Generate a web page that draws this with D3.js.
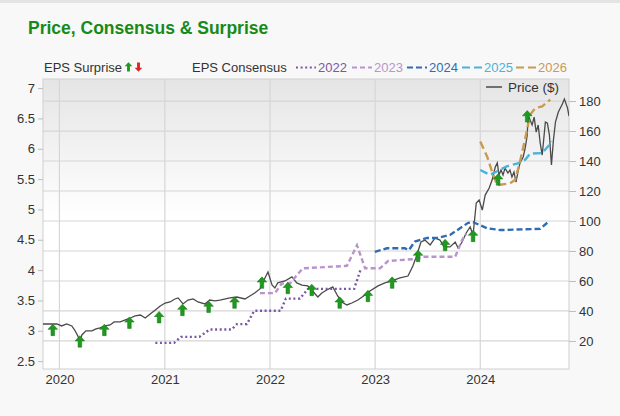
<!DOCTYPE html>
<html>
<head>
<meta charset="utf-8">
<script src="https://cdn.jsdelivr.net/npm/d3@7"></script>
<style>
  body { margin: 0; background: #f8f8f8; }
  svg { display: block; font-family: "Liberation Sans", Arial, sans-serif; }
</style>
</head>
<body>
<div id="container"></div>
<script>
// values
let priceDates = ["2019-11-05","2019-11-29","2019-12-23","2020-01-09","2020-01-26","2020-02-13","2020-02-23","2020-03-05","2020-03-12","2020-03-19","2020-04-02","2020-04-23","2020-05-07","2020-05-21","2020-06-08","2020-06-25","2020-07-09","2020-07-30","2020-08-17","2020-09-03","2020-09-20","2020-10-08","2020-10-25","2020-11-11","2020-11-29","2020-12-16","2021-01-02","2021-01-19","2021-02-05","2021-02-16","2021-03-05","2021-03-22","2021-04-09","2021-04-26","2021-05-20","2021-06-06","2021-06-24","2021-07-11","2021-08-15","2021-09-08","2021-10-06","2021-10-23","2021-11-09","2021-11-27","2021-12-11","2021-12-25","2022-01-08","2022-01-18","2022-01-28","2022-02-22","2022-03-18","2022-04-04","2022-04-22","2022-05-12","2022-05-26","2022-06-16","2022-06-30","2022-07-17","2022-08-07","2022-08-24","2022-09-07","2022-09-25","2022-10-12","2022-11-02","2022-11-27","2022-12-14","2023-01-11","2023-02-04","2023-02-28","2023-03-28","2023-04-25","2023-05-12","2023-05-26","2023-06-09","2023-06-23","2023-07-11","2023-07-28","2023-08-14","2023-08-28","2023-09-18","2023-10-06","2023-10-16","2023-10-30","2023-11-13","2023-11-27","2023-12-07","2023-12-18","2023-12-28","2024-01-08","2024-01-18","2024-02-01","2024-02-11","2024-02-22","2024-02-29","2024-03-06","2024-03-13","2024-03-20","2024-03-27","2024-04-06","2024-04-13","2024-04-20","2024-04-27","2024-05-04","2024-05-11","2024-05-18","2024-05-29","2024-06-05","2024-06-12","2024-06-15","2024-06-22","2024-06-29","2024-07-06","2024-07-13","2024-07-20","2024-07-27","2024-08-03","2024-08-14","2024-08-21","2024-08-28","2024-09-04","2024-09-11","2024-09-18","2024-09-28","2024-10-12","2024-10-19","2024-10-30","2024-11-04"];
let priceValues = [31.3,31.3,31.3,30,31.3,30,27.3,23.3,20,24,26.7,26.7,28,28.7,30,30.7,32.7,32.7,34,35.3,36.7,37.3,35.3,38,40.7,43.3,45.3,46,48,48.7,44.7,47.3,48,46,44.7,47.3,46.7,47.3,48.7,49.3,48,50,52,54.7,60.7,66,57.3,55.3,58.7,60,62.7,58.7,57.3,56.7,54,49.3,52,54,56,50,46,44,45.3,47.3,50.7,53.3,56.7,58.7,60,62,63.3,70,77.3,86,87.3,84,88.7,87.3,82.7,82.7,86,82,86,92,96,90.7,112,114,107.3,117.3,122,127.3,136,138.7,130.7,134,130.7,135.3,132,134,129.3,132.7,126,132.7,138.7,142.7,148.7,157.3,170.7,167.3,164,169.3,159.3,164,152,144,166,165.3,157.3,137.3,154,166,172.7,178,181.3,175.3,170];

let eps2022 = [["2020-11-29",2.80],["2021-02-02",2.80],["2021-02-26",2.90],["2021-05-01",2.90],["2021-06-05",3.02],["2021-08-21",3.02],["2021-09-08",3.11],["2021-10-13",3.11],["2021-11-07",3.33],["2022-02-07",3.33],["2022-02-25",3.53],["2022-04-15",3.53],["2022-05-13",3.69],["2022-10-20",3.69],["2022-11-13",4.03]];
let eps2023 = [["2021-11-27",3.62],["2022-01-18",3.62],["2022-02-11",3.78],["2022-03-11",3.78],["2022-04-25",4.03],["2022-09-25",4.07],["2022-10-30",4.41],["2022-11-27",4.03],["2023-01-18",4.03],["2023-02-15",4.15],["2023-05-12",4.18],["2023-06-16",4.22],["2023-10-06",4.22],["2023-10-30",4.50],["2023-11-13",4.60]];
let eps2024 = [["2022-12-31",4.30],["2023-02-11",4.36],["2023-04-14",4.36],["2023-04-28",4.33],["2023-05-19",4.47],["2023-06-30",4.53],["2023-08-04",4.53],["2023-09-18",4.58],["2023-11-20",4.78],["2023-12-07",4.79],["2024-01-25",4.69],["2024-03-10",4.66],["2024-07-27",4.68],["2024-08-28",4.81]];
let eps2025 = [["2024-01-01",5.65],["2024-02-04",5.57],["2024-04-02",5.71],["2024-05-11",5.76],["2024-06-05",5.82],["2024-06-22",5.92],["2024-08-03",5.93],["2024-09-07",6.12]];
let eps2026 = [["2024-01-01",6.12],["2024-01-25",5.87],["2024-02-11",5.62],["2024-02-29",5.40],["2024-04-13",5.43],["2024-05-01",5.49],["2024-05-18",5.79],["2024-06-05",6.17],["2024-06-22",6.56],["2024-07-10",6.67],["2024-08-03",6.70],["2024-08-31",6.81]];

let surpriseDates = ["2019-12-09","2020-03-12","2020-06-05","2020-08-31","2020-12-12","2021-03-03","2021-06-02","2021-08-31","2021-12-04","2022-03-04","2022-05-26","2022-08-31","2022-12-07","2023-03-01","2023-05-30","2023-09-01","2023-12-07","2024-03-03","2024-06-12"];
let surpriseValues = [3.01,2.82,3.01,3.13,3.22,3.34,3.39,3.46,3.79,3.70,3.67,3.46,3.57,3.79,4.23,4.41,4.56,5.49,6.53];

let consensusYears = ["2022","2023","2024","2025","2026"];
let leftTicks = [2.5,3,3.5,4,4.5,5,5.5,6,6.5,7];
let rightTicks = [20,40,60,80,100,120,140,160,180];
let yearTicks = ["2020","2021","2022","2023","2024"];

let w = 620;
let h = 416;
let plotLeft = 43, plotRight = 569, plotTop = 79, plotBottom = 369;
let parse = d3.timeParse("%Y-%m-%d");

let colors = {"2022": "#7a56a6", "2023": "#b994cc", "2024": "#2f6cb3", "2025": "#4db2d9", "2026": "#c99a52"};
let dashes = {"2022": "2,2.6", "2023": "5,3", "2024": "6,3", "2025": "8,4", "2026": "8,4"};

let viz = d3.select("#container")
  .append("svg")
    .attr("width", w)
    .attr("height", h)
;

viz.append("rect").attr("width", w).attr("height", h).attr("fill", "#f8f8f8");
viz.append("rect").attr("width", w).attr("height", 3).attr("fill", "#e4e4e4");

let x = d3.scaleTime()
  .domain([parse("2019-11-05"), parse("2024-11-04")])
  .range([plotLeft, plotRight]);
let yL = d3.scaleLinear().domain([2.37, 7.15]).range([plotBottom, plotTop]);
let yR = d3.scaleLinear().domain([1.3, 194.7]).range([plotBottom, plotTop]);

//plot background with grey fade at top
let defs = viz.append("defs");
let grad = defs.append("linearGradient")
  .attr("id", "bg").attr("x1", 0).attr("y1", 0).attr("x2", 0).attr("y2", 1);
grad.append("stop").attr("offset", "0%").attr("stop-color", "#e5e5e5");
grad.append("stop").attr("offset", "48%").attr("stop-color", "#ffffff");
defs.append("clipPath").attr("id", "clip")
  .append("rect").attr("x", plotLeft).attr("y", plotTop).attr("width", plotRight - plotLeft).attr("height", plotBottom - plotTop);

viz.append("rect")
  .attr("x", plotLeft).attr("y", plotTop)
  .attr("width", plotRight - plotLeft).attr("height", plotBottom - plotTop)
  .attr("fill", "url(#bg)");

//grid
viz.append("g").selectAll("line").data(rightTicks).enter()
  .append("line")
    .attr("x1", plotLeft).attr("x2", plotRight)
    .attr("y1", d => yR(d)).attr("y2", d => yR(d))
    .style("stroke", "#d6d6d6").style("stroke-width", 1.2);
viz.append("g").selectAll("line").data(yearTicks).enter()
  .append("line")
    .attr("x1", d => x(parse(d + "-01-01"))).attr("x2", d => x(parse(d + "-01-01")))
    .attr("y1", plotTop).attr("y2", plotBottom)
    .style("stroke", "#d6d6d6").style("stroke-width", 1.2);

viz.append("rect")
  .attr("x", plotLeft).attr("y", plotTop)
  .attr("width", plotRight - plotLeft).attr("height", plotBottom - plotTop)
  .attr("fill", "none").style("stroke", "#cfcfcf");

//axes
let leftAxis = viz.append("g")
  .attr("transform", "translate(" + plotLeft + ",0)")
  .call(d3.axisLeft(yL).tickValues(leftTicks).tickSize(5).tickPadding(3).tickFormat(d3.format("")));
let rightAxis = viz.append("g")
  .attr("transform", "translate(" + plotRight + ",0)")
  .call(d3.axisRight(yR).tickValues(rightTicks).tickSize(7).tickPadding(3));
let bottomAxis = viz.append("g")
  .attr("transform", "translate(0," + plotBottom + ")")
  .call(d3.axisBottom(x).tickValues(yearTicks.map(d => parse(d + "-01-01"))).tickSize(0).tickPadding(6).tickFormat(d3.timeFormat("%Y")));
[leftAxis, rightAxis, bottomAxis].forEach(function(a){
  a.select(".domain").remove();
  a.selectAll("line").style("stroke", "#bdbdbd");
  a.selectAll("text").style("fill", "#333").style("font-size", "13px").style("font-family", "Liberation Sans, Arial, sans-serif");
});

let plot = viz.append("g").attr("clip-path", "url(#clip)");

//price line on the right scale
let priceLine = d3.line()
  .x((d, i) => x(parse(priceDates[i])))
  .y(d => yR(d));
plot.append("path")
  .attr("d", priceLine(priceValues))
  .attr("fill", "none")
  .style("stroke", "#4a4a4a")
  .style("stroke-width", 1.3);

//consensus lines on the left scale
let epsLine = d3.line()
  .x(d => x(parse(d[0])))
  .y(d => yL(d[1]));
let consensus = [eps2022, eps2023, eps2024, eps2025, eps2026];
consensus.forEach(function(series, i){
  let yr = consensusYears[i];
  plot.append("path")
    .attr("d", epsLine(series))
    .attr("fill", "none")
    .style("stroke", colors[yr])
    .style("stroke-width", 2.4)
    .style("stroke-dasharray", dashes[yr]);
});

//surprise arrows
let upArrow = "M0,-6 L4.8,-0.8 L1.8,-0.8 L1.8,5.5 L-1.8,5.5 L-1.8,-0.8 L-4.8,-0.8 Z";
let downArrow = "M0,6 L4.8,0.8 L1.8,0.8 L1.8,-5.5 L-1.8,-5.5 L-1.8,0.8 L-4.8,0.8 Z";
plot.selectAll(".surprise").data(surpriseValues).enter()
  .append("path")
    .attr("class", "surprise")
    .attr("d", upArrow)
    .attr("transform", (d, i) => "translate(" + x(parse(surpriseDates[i])) + "," + yL(d) + ")")
    .style("fill", "#1f9a1f")
    .style("stroke", "#137313")
    .style("stroke-width", 0.5);

//title
viz.append("text")
  .text("Price, Consensus & Surprise")
  .attr("x", 28).attr("y", 34)
  .style("fill", "#178a17")
  .style("font-size", "17.5px")
  .style("font-weight", "bold");

//legend row
let legend = viz.append("g").style("font-size", "13px");
legend.append("text").text("EPS Surprise").attr("x", 44).attr("y", 72).style("fill", "#333");
legend.append("path").attr("d", upArrow).attr("transform", "translate(128.5,67) scale(0.8)").style("fill", "#1f9a1f");
legend.append("path").attr("d", downArrow).attr("transform", "translate(138.5,67) scale(0.8)").style("fill", "#e02424");
legend.append("text").text("EPS Consensus").attr("x", 192).attr("y", 72).style("fill", "#333");

let lineX = [296, 352, 407, 462, 516];
consensusYears.forEach(function(yr, i){
  legend.append("line")
    .attr("x1", lineX[i]).attr("x2", lineX[i] + 20)
    .attr("y1", 67.5).attr("y2", 67.5)
    .style("stroke", colors[yr])
    .style("stroke-width", 2)
    .style("stroke-dasharray", dashes[yr]);
  legend.append("text").text(yr)
    .attr("x", lineX[i] + 22).attr("y", 72)
    .style("fill", colors[yr]);
});

//price legend inside the plot
legend.append("line")
  .attr("x1", 486).attr("x2", 502).attr("y1", 87).attr("y2", 87)
  .style("stroke", "#4a4a4a").style("stroke-width", 1.5);
legend.append("text").text("Price ($)").attr("x", 508).attr("y", 91.5).style("fill", "#333").style("font-size", "13.5px");
</script>
</body>
</html>
